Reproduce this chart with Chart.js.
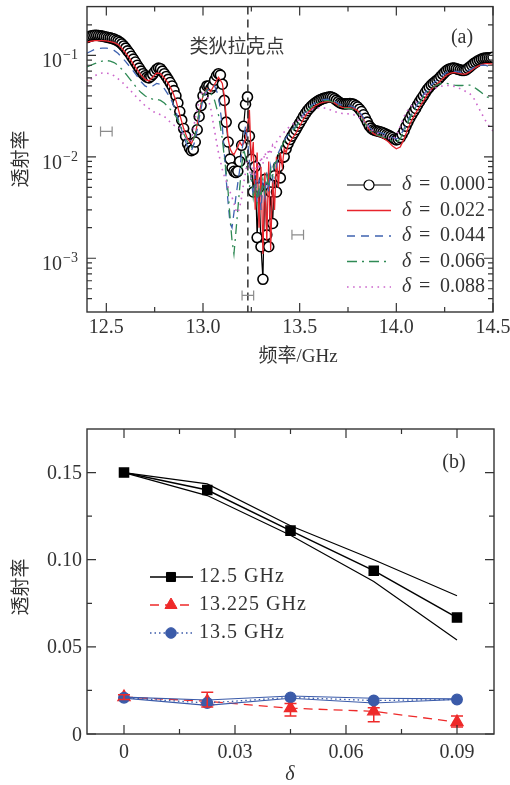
<!DOCTYPE html>
<html><head><meta charset="utf-8">
<script src="https://cdn.jsdelivr.net/npm/chart.js@4/dist/chart.umd.min.js"></script>
<style>
html,body{margin:0;padding:0;background:#fff;width:510px;height:785px;overflow:hidden}
#c1{position:absolute;left:0;top:0}
#c2{position:absolute;left:0;top:380px}
</style></head><body>
<canvas id="c1" width="510" height="380"></canvas>
<canvas id="c2" width="510" height="405"></canvas>
<script>
// ---------- Panel (a) data ----------
const freqA = [12.40,12.41,12.42,12.43,12.44,12.45,12.46,12.47,12.48,12.49,
12.50,12.51,12.52,12.53,12.54,12.55,12.56,12.57,12.58,12.59,
12.60,12.61,12.62,12.63,12.64,12.65,12.66,12.67,12.68,12.69,
12.70,12.71,12.72,12.73,12.74,12.75,12.76,12.77,12.78,12.79,
12.80,12.81,12.82,12.83,12.84,12.85,12.86,12.87,12.88,12.89,
12.90,12.91,12.92,12.93,12.94,12.95,12.96,12.97,12.98,12.99,
13.00,13.01,13.02,13.03,13.04,13.05,13.06,13.07,13.08,13.09,
13.10,13.11,13.12,13.13,13.14,13.15,13.16,13.17,13.18,13.19,
13.20,13.21,13.22,13.23,13.24,13.25,13.26,13.27,13.28,13.29,
13.30,13.31,13.32,13.33,13.34,13.35,13.36,13.37,13.38,13.39,
13.40,13.41,13.42,13.43,13.44,13.45,13.46,13.47,13.48,13.49,
13.50,13.51,13.52,13.53,13.54,13.55,13.56,13.57,13.58,13.59,
13.60,13.61,13.62,13.63,13.64,13.65,13.66,13.67,13.68,13.69,
13.70,13.71,13.72,13.73,13.74,13.75,13.76,13.77,13.78,13.79,
13.80,13.81,13.82,13.83,13.84,13.85,13.86,13.87,13.88,13.89,
13.90,13.91,13.92,13.93,13.94,13.95,13.96,13.97,13.98,13.99,
14.00,14.01,14.02,14.03,14.04,14.05,14.06,14.07,14.08,14.09,
14.10,14.11,14.12,14.13,14.14,14.15,14.16,14.17,14.18,14.19,
14.20,14.21,14.22,14.23,14.24,14.25,14.26,14.27,14.28,14.29,
14.30,14.31,14.32,14.33,14.34,14.35,14.36,14.37,14.38,14.39,
14.40,14.41,14.42,14.43,14.44,14.45,14.46,14.47,14.48,14.49,14.50];

const trans000 = [0.150,0.153,0.155,0.157,0.158,0.158,0.157,0.156,0.155,0.153,
0.152,0.150,0.149,0.147,0.145,0.142,0.139,0.135,0.130,0.124,
0.118,0.111,0.105,0.098,0.092,0.086,0.080,0.075,0.070,0.066,
0.063,0.061,0.060,0.062,0.065,0.069,0.073,0.075,0.074,0.070,
0.066,0.062,0.058,0.054,0.050,0.045,0.040,0.034,0.028,0.023,
0.019,0.016,0.0135,0.0122,0.0115,0.0118,0.0140,0.0185,0.025,0.032,
0.040,0.046,0.050,0.050,0.047,0.050,0.057,0.063,0.066,0.064,
0.052,0.036,0.022,0.014,0.0095,0.0078,0.0072,0.0070,0.0072,0.0090,
0.0130,0.0200,0.0330,0.0390,0.0160,0.0095,0.0045,0.0080,0.0016,0.0050,
0.0013,0.00062,0.0060,0.0017,0.0013,0.0045,0.0022,0.0065,0.0045,0.0080,
0.0062,0.0098,0.0100,0.0120,0.0135,0.0148,0.0160,0.0172,0.0185,0.0200,
0.0215,0.0232,0.0250,0.0268,0.0285,0.0300,0.0315,0.0328,0.0340,0.0350,
0.0360,0.0368,0.0375,0.0380,0.0385,0.0389,0.0390,0.0385,0.0375,0.0362,
0.0350,0.0340,0.0335,0.0333,0.0333,0.0334,0.0335,0.0333,0.0330,0.0320,
0.0310,0.0295,0.0280,0.0260,0.0240,0.0220,0.0202,0.0192,0.0185,0.0182,
0.0180,0.0178,0.0176,0.0173,0.0170,0.0166,0.0163,0.0159,0.0155,0.0150,
0.0147,0.0149,0.0155,0.0166,0.0180,0.0200,0.0220,0.0240,0.0260,0.0280,
0.0300,0.0325,0.0350,0.0375,0.0400,0.0430,0.0460,0.0485,0.0510,0.0530,
0.0550,0.0570,0.0590,0.0620,0.0650,0.0680,0.0710,0.0730,0.0740,0.0750,
0.0750,0.0740,0.0730,0.0720,0.0710,0.0710,0.0720,0.0745,0.0770,0.0800,
0.0830,0.0855,0.0880,0.0900,0.0920,0.0935,0.0940,0.0945,0.0950,0.0955,0.0960];

const freqB = [12.40,12.42,12.44,12.46,12.48,12.50,12.52,12.54,12.56,12.58,
12.60,12.62,12.64,12.66,12.68,12.70,12.72,12.74,12.76,12.78,
12.80,12.82,12.84,12.86,12.88,12.90,12.92,12.94,12.96,12.98,
13.00,13.02,13.04,13.06,13.08,13.10,
13.11,13.12,13.13,13.14,13.15,13.16,13.17,13.18,13.19,13.20,
13.21,13.22,13.23,13.24,13.25,13.26,13.27,13.28,13.29,13.30,
13.31,13.32,13.33,13.34,13.35,13.36,13.37,13.38,13.39,13.40,
13.41,13.42,13.43,13.44,13.45,13.46,
13.48,13.50,13.52,13.54,13.56,13.58,13.60,13.62,13.64,13.66,
13.68,13.70,13.72,13.74,13.76,13.78,13.80,13.82,13.84,13.86,
13.88,13.90,13.92,13.94,13.96,13.98,
14.00,14.02,14.04,14.06,14.08,14.10,14.12,14.14,14.16,14.18,
14.20,14.22,14.24,14.26,14.28,14.30,14.32,14.34,14.36,14.38,
14.40,14.42,14.44,14.46,14.48,14.50];

const trans022 = [0.135,0.138,0.140,0.140,0.140,0.139,0.137,0.134,0.128,0.118,
0.106,0.094,0.082,0.072,0.064,0.058,0.056,0.061,0.067,0.066,
0.060,0.053,0.045,0.036,0.026,0.019,0.0150,0.0135,0.0165,0.0270,
0.0400,0.0470,0.0440,0.0520,0.0610,0.0530,
0.040,0.025,0.015,0.0120,0.0110,0.0105,0.0115,0.0125,0.0140,0.0130,
0.0135,0.0150,0.0200,0.0290,0.0090,0.0140,0.0030,0.0110,0.0020,0.0080,
0.0011,0.0070,0.0015,0.0090,0.0012,0.0060,0.0030,0.0100,0.0050,0.0110,
0.0080,0.0120,0.0110,0.0130,0.0140,0.0150,
0.0170,0.0200,0.0235,0.0268,0.0295,0.0318,0.0335,0.0345,0.0350,0.0350,
0.0340,0.0320,0.0308,0.0305,0.0305,0.0300,0.0285,0.0255,0.0215,0.0185,
0.0170,0.0163,0.0158,0.0150,0.0140,0.0128,
0.0120,0.0125,0.0150,0.0190,0.0230,0.0270,0.0310,0.0355,0.0410,0.0460,
0.0500,0.0540,0.0590,0.0640,0.0670,0.0680,0.0670,0.0655,0.0655,0.0690,
0.0740,0.0780,0.0810,0.0830,0.0830,0.0820];

const trans044 = [0.105,0.110,0.115,0.117,0.118,0.118,0.116,0.112,0.105,0.096,
0.087,0.078,0.070,0.062,0.055,0.050,0.048,0.050,0.053,0.052,
0.047,0.041,0.035,0.028,0.021,0.016,0.0125,0.0115,0.0145,0.024,
0.037,0.045,0.048,0.050,0.040,0.020,
0.011,0.0060,0.0035,0.0022,0.0020,0.0028,0.0040,0.0055,0.0075,0.0110,
0.0150,0.0200,0.0150,0.0090,0.0060,0.0040,0.0070,0.0035,0.0060,0.0030,
0.0055,0.0040,0.0070,0.0045,0.0080,0.0060,0.0090,0.0080,0.0110,0.0120,
0.0135,0.0145,0.0155,0.0165,0.0175,0.0185,
0.0200,0.0230,0.0262,0.0295,0.0320,0.0340,0.0355,0.0365,0.0370,0.0368,
0.0355,0.0335,0.0322,0.0318,0.0318,0.0310,0.0290,0.0260,0.0225,0.0195,
0.0180,0.0175,0.0172,0.0168,0.0162,0.0155,
0.0150,0.0160,0.0190,0.0230,0.0270,0.0310,0.0360,0.0410,0.0460,0.0510,
0.0550,0.0590,0.0640,0.0680,0.0700,0.0700,0.0690,0.0680,0.0690,0.0720,
0.0760,0.0790,0.0800,0.0800,0.0780,0.0760];

const trans066 = [0.077,0.080,0.083,0.086,0.088,0.089,0.088,0.085,0.080,0.073,
0.066,0.059,0.053,0.047,0.043,0.040,0.038,0.037,0.037,0.036,
0.034,0.031,0.028,0.025,0.021,0.017,0.014,0.0125,0.017,0.028,
0.040,0.046,0.043,0.036,0.026,0.015,
0.0100,0.0070,0.0045,0.0025,0.0015,0.0011,0.0018,0.0030,0.0050,0.0080,
0.0120,0.0100,0.0070,0.0050,0.0065,0.0040,0.0055,0.0035,0.0050,0.0040,
0.0060,0.0045,0.0065,0.0050,0.0075,0.0065,0.0085,0.0090,0.0105,0.0115,
0.0130,0.0140,0.0150,0.0160,0.0170,0.0180,
0.0195,0.0225,0.0255,0.0285,0.0310,0.0330,0.0345,0.0355,0.0360,0.0355,
0.0340,0.0320,0.0305,0.0300,0.0300,0.0290,0.0270,0.0240,0.0210,0.0185,
0.0170,0.0165,0.0160,0.0155,0.0148,0.0142,
0.0140,0.0150,0.0180,0.0220,0.0260,0.0300,0.0340,0.0390,0.0430,0.0470,
0.0500,0.0520,0.0530,0.0530,0.0520,0.0510,0.0505,0.0505,0.0510,0.0510,
0.0490,0.0460,0.0430,0.0400,0.0380,0.0360];

const trans088 = [0.052,0.058,0.063,0.066,0.067,0.067,0.066,0.063,0.059,0.055,
0.050,0.046,0.042,0.038,0.035,0.032,0.030,0.028,0.027,0.026,
0.025,0.023,0.021,0.020,0.019,0.016,0.0145,0.0145,0.024,0.036,
0.045,0.042,0.030,0.018,0.011,0.0075,
0.0065,0.0058,0.0050,0.0045,0.0040,0.0035,0.0030,0.0028,0.0032,0.0040,
0.0055,0.0070,0.0090,0.0075,0.0060,0.0080,0.0065,0.0090,0.0075,0.0100,
0.0085,0.0110,0.0095,0.0120,0.0105,0.0130,0.0120,0.0140,0.0150,0.0160,
0.0168,0.0176,0.0184,0.0192,0.0200,0.0208,
0.0218,0.0235,0.0255,0.0275,0.0290,0.0300,0.0305,0.0305,0.0300,0.0290,
0.0280,0.0272,0.0268,0.0266,0.0265,0.0260,0.0250,0.0235,0.0215,0.0195,
0.0180,0.0172,0.0165,0.0158,0.0152,0.0150,
0.0160,0.0200,0.0250,0.0290,0.0320,0.0340,0.0370,0.0400,0.0430,0.0455,
0.0475,0.0490,0.0500,0.0505,0.0505,0.0495,0.0480,0.0460,0.0440,0.0420,
0.0380,0.0320,0.0270,0.0230,0.0200,0.0180];

const deltaLabelsA = ['0.000','0.022','0.044','0.066','0.088'];
const xTicksA = [12.5,13.0,13.5,14.0,14.5];
const xTickLabelsA = ['12.5','13.0','13.5','14.0','14.5'];
const xMinorA = [12.75,13.25,13.75,14.25];
const yDecadesA = [0.1,0.01,0.001];
const yExpLabelsA = ['\u22121','\u22122','\u22123'];
const yMinorA = [0.0004,0.0005,0.0006,0.0007,0.0008,0.0009,
  0.002,0.003,0.004,0.005,0.006,0.007,0.008,0.009,
  0.02,0.03,0.04,0.05,0.06,0.07,0.08,0.09,0.2];
const diracFreq = 13.232;
const diracLabel = '类狄拉克点';
const errFreqA = [12.50,13.49,13.232];
const errValA = [0.0178,0.0017,0.00043];
const errHalfA = [0.03,0.03,0.03];

// ---------- Panel (b) data ----------
const deltaB = [0,0.0225,0.045,0.0675,0.09];
const t125 = [0.150,0.140,0.1167,0.0937,0.0668];
const t125Hi = [0.150,0.1435,0.1195,0.1000,0.0793];
const t125Lo = [0.150,0.1368,0.1140,0.0875,0.0540];
const t13225 = [0.0212,0.0188,0.0148,0.0130,0.0068];
const t13225ErrHi = [0.0225,0.0240,0.0175,0.0150,0.0103];
const t13225ErrLo = [0.0198,0.0155,0.0103,0.0070,0.0040];
const t135 = [0.0208,0.0178,0.0210,0.0192,0.0198];
const t135Hi = [0.0212,0.0195,0.0218,0.0205,0.0202];
const t135Lo = [0.0206,0.0164,0.0205,0.0178,0.0198];
const legendB = ['12.5 GHz','13.225 GHz','13.5 GHz'];
const xTicksB = [0,0.03,0.06,0.09];
const xTickLabelsB = ['0','0.03','0.06','0.09'];
const xMinorB = [0.015,0.045,0.075];
const yTicksB = [0,0.05,0.10,0.15];
const yTickLabelsB = ['0','0.05','0.10','0.15'];
const yMinorB = [0.025,0.075,0.125];

// ---------- helpers ----------
const SERIF = '"Liberation Serif","DejaVu Serif",serif';
const CJK = '"Noto Sans CJK SC",sans-serif';
const TXT = '#333';
const pts = (xs, ys) => xs.map((v,i)=>({x:v,y:ys[i]}));

function drawFrameTicks(ctx, a, xs, ys, xMaj, xMin, yMaj, yMin){
  ctx.save();
  ctx.strokeStyle = '#333'; ctx.lineWidth = 1.4; ctx.setLineDash([]);
  ctx.strokeRect(a.left, a.top, a.right - a.left, a.bottom - a.top);
  ctx.lineWidth = 1.2;
  ctx.beginPath();
  const vt = (v, len) => { const p = xs.getPixelForValue(v);
    ctx.moveTo(p, a.bottom); ctx.lineTo(p, a.bottom - len);
    ctx.moveTo(p, a.top); ctx.lineTo(p, a.top + len); };
  const ht = (v, len) => { const p = ys.getPixelForValue(v);
    ctx.moveTo(a.left, p); ctx.lineTo(a.left + len, p);
    ctx.moveTo(a.right, p); ctx.lineTo(a.right - len, p); };
  xMaj.forEach(v=>vt(v,9)); xMin.forEach(v=>vt(v,5));
  yMaj.forEach(v=>ht(v,9)); yMin.forEach(v=>ht(v,5));
  ctx.stroke();
  ctx.restore();
}

function marker(ctx, style, x, y, r){
  ctx.beginPath();
  if (style === 'rect'){ const s = r*Math.SQRT1_2; ctx.rect(x-s,y-s,2*s,2*s); }
  else if (style === 'triangle'){
    ctx.moveTo(x, y-r); ctx.lineTo(x+0.866*r, y+0.5*r); ctx.lineTo(x-0.866*r, y+0.5*r); ctx.closePath();
  } else { ctx.arc(x,y,r,0,Math.PI*2); }
  ctx.fill(); ctx.stroke();
}

// ---------- Panel (a) ----------
const decorA = {
  id:'decorA',
  afterDatasetsDraw(chart){
    const {ctx, chartArea:a, scales:{x, y}} = chart;
    ctx.save();
    const dx = x.getPixelForValue(diracFreq);
    ctx.strokeStyle = '#333'; ctx.lineWidth = 1.5; ctx.setLineDash([8,5]);
    ctx.beginPath(); ctx.moveTo(dx, a.top); ctx.lineTo(dx, a.bottom); ctx.stroke();
    ctx.setLineDash([]);
    ctx.strokeStyle = '#8c8c8c'; ctx.lineWidth = 1.2;
    errFreqA.forEach((f,i)=>{
      const x1 = x.getPixelForValue(f - errHalfA[i]), x2 = x.getPixelForValue(f + errHalfA[i]);
      const py = y.getPixelForValue(errValA[i]);
      ctx.beginPath();
      ctx.moveTo(x1,py); ctx.lineTo(x2,py);
      ctx.moveTo(x1,py-5); ctx.lineTo(x1,py+5);
      ctx.moveTo(x2,py-5); ctx.lineTo(x2,py+5);
      ctx.stroke();
    });
    ctx.restore();
    drawFrameTicks(ctx, a, x, y, xTicksA, xMinorA, yDecadesA, yMinorA);
    ctx.save();
    ctx.fillStyle = TXT;
    ctx.font = '20px ' + SERIF; ctx.textAlign = 'center'; ctx.textBaseline = 'alphabetic';
    xTicksA.forEach((v,i)=> ctx.fillText(xTickLabelsA[i], x.getPixelForValue(v), 333));
    yDecadesA.forEach((v,i)=>{
      const py = y.getPixelForValue(v);
      ctx.font = '20px ' + SERIF; ctx.textAlign = 'right';
      ctx.fillText('10', 62, py + 12);
      ctx.font = '14px ' + SERIF; ctx.textAlign = 'left';
      ctx.fillText(yExpLabelsA[i], 63, py + 4);
    });
    ctx.font = '19px ' + SERIF + ',' + CJK; ctx.textAlign = 'center';
    ctx.fillText('频率/GHz', 298, 362);
    ctx.save(); ctx.translate(20, 159); ctx.rotate(-Math.PI/2);
    ctx.font = '19px ' + CJK; ctx.textBaseline = 'middle';
    ctx.fillText('透射率', 0, 0); ctx.restore();
    ctx.font = '19px ' + CJK; ctx.textBaseline = 'middle'; ctx.textAlign = 'center';
    ctx.fillStyle = '#3a3a3a';
    ctx.fillText(diracLabel, 237, 46);
    ctx.fillStyle = TXT;
    ctx.font = '20px ' + SERIF;
    ctx.fillText('(a)', 462, 38);
    const ds = chart.data.datasets;
    deltaLabelsA.forEach((lab,i)=>{
      const ly = 185 + i*25.5;
      const d = ds[i];
      ctx.save();
      ctx.strokeStyle = d.borderColor; ctx.lineWidth = d.borderWidth;
      ctx.setLineDash(d.borderDash || []);
      ctx.beginPath(); ctx.moveTo(347, ly); ctx.lineTo(391, ly); ctx.stroke();
      ctx.setLineDash([]);
      if (i === 0){ ctx.fillStyle = '#fff'; ctx.lineWidth = 1.2; ctx.strokeStyle = '#000'; marker(ctx,'circle',369,ly,5); }
      ctx.restore();
      ctx.textAlign = 'left'; ctx.textBaseline = 'middle';
      ctx.font = 'italic 20px ' + SERIF; ctx.fillText('δ', 402, ly);
      ctx.font = '20px ' + SERIF; ctx.fillText('=', 419, ly);
      ctx.fillText(lab, 440, ly);
    });
    ctx.restore();
  }
};

new Chart(document.getElementById('c1'), {
  type:'line',
  data:{ datasets:[
    { label:'δ = '+deltaLabelsA[0], data:pts(freqA,trans000), borderColor:'#000', borderWidth:1.2,
      pointRadius:5, pointBorderWidth:1.6, pointBackgroundColor:'#fff', pointBorderColor:'#000', order:10, clip:0 },
    { label:'δ = '+deltaLabelsA[1], data:pts(freqB,trans022), borderColor:'#e8242c', borderWidth:1.3, pointRadius:0, order:4, clip:0 },
    { label:'δ = '+deltaLabelsA[2], data:pts(freqB,trans044), borderColor:'#3f63b0', borderWidth:1.3, borderDash:[8,6], pointRadius:0, order:3, clip:0 },
    { label:'δ = '+deltaLabelsA[3], data:pts(freqB,trans066), borderColor:'#2f8a55', borderWidth:1.3, borderDash:[10,5,2,5], pointRadius:0, order:2, clip:0 },
    { label:'δ = '+deltaLabelsA[4], data:pts(freqB,trans088), borderColor:'#cc66cc', borderWidth:1.6, borderDash:[1.6,4.5], pointRadius:0, order:1, clip:0 }
  ]},
  options:{
    responsive:false, animation:false, devicePixelRatio:1, events:[],
    layout:{ padding:{ left:87, top:6, right:17, bottom:68 } },
    elements:{ line:{ tension:0 } },
    plugins:{ legend:{display:false}, tooltip:{enabled:false} },
    scales:{
      x:{ type:'linear', min:12.4, max:14.5, display:false },
      y:{ type:'logarithmic', min:2.95e-4, max:0.303, display:false }
    }
  },
  plugins:[decorA]
});

// ---------- Panel (b) ----------
const decorB = {
  id:'decorB',
  afterDatasetsDraw(chart){
    const {ctx, chartArea:a, scales:{x, y}} = chart;
    ctx.save();
    ctx.strokeStyle = '#ee2a2a'; ctx.lineWidth = 1.5;
    deltaB.forEach((d,i)=>{
      const px = x.getPixelForValue(d);
      const yh = y.getPixelForValue(t13225ErrHi[i]), yl = y.getPixelForValue(t13225ErrLo[i]);
      ctx.beginPath();
      ctx.moveTo(px, yh); ctx.lineTo(px, yl);
      ctx.moveTo(px-6, yh); ctx.lineTo(px+6, yh);
      ctx.moveTo(px-6, yl); ctx.lineTo(px+6, yl);
      ctx.stroke();
    });
    ctx.restore();
    drawFrameTicks(ctx, a, x, y, xTicksB, xMinorB, yTicksB, yMinorB);
    ctx.save();
    ctx.fillStyle = TXT;
    ctx.font = '20px ' + SERIF; ctx.textAlign = 'center'; ctx.textBaseline = 'alphabetic';
    xTicksB.forEach((v,i)=> ctx.fillText(xTickLabelsB[i], x.getPixelForValue(v), 378));
    ctx.textAlign = 'right';
    yTicksB.forEach((v,i)=> ctx.fillText(yTickLabelsB[i], 82, y.getPixelForValue(v) + 6.5));
    ctx.textAlign = 'center';
    ctx.font = 'italic 20px ' + SERIF; ctx.fillText('δ', 290, 400);
    ctx.save(); ctx.translate(20, 207); ctx.rotate(-Math.PI/2);
    ctx.font = '19px ' + CJK; ctx.textBaseline = 'middle';
    ctx.fillText('透射率', 0, 0); ctx.restore();
    ctx.font = '20px ' + SERIF; ctx.textBaseline = 'middle';
    ctx.fillText('(b)', 454, 83);
    const ds = chart.data.datasets;
    const legIdx = [0,3,4];
    legIdx.forEach((di,i)=>{
      const d = ds[di];
      const ly = 197 + i*28;
      ctx.save();
      ctx.strokeStyle = d.borderColor; ctx.lineWidth = d.borderWidth;
      ctx.setLineDash(d.borderDash || []);
      ctx.beginPath(); ctx.moveTo(150, ly); ctx.lineTo(193, ly); ctx.stroke();
      ctx.setLineDash([]);
      ctx.fillStyle = d.pointBackgroundColor; ctx.strokeStyle = d.pointBackgroundColor; ctx.lineWidth = 1;
      marker(ctx, d.pointStyle, 171, ly, d.pointRadius);
      ctx.restore();
      ctx.save();
      ctx.fillStyle = TXT; ctx.font = '20px ' + SERIF; ctx.textAlign = 'left'; ctx.textBaseline = 'middle';
      ctx.letterSpacing = '1px';
      ctx.fillText(legendB[i], 199, ly);
      ctx.restore();
    });
    ctx.restore();
  }
};

new Chart(document.getElementById('c2'), {
  type:'line',
  data:{ datasets:[
    { label:legendB[0], data:pts(deltaB,t125), borderColor:'#000', borderWidth:1.5,
      pointStyle:'rect', pointRadius:6.4, pointBackgroundColor:'#000', pointBorderColor:'#000', order:3 },
    { label:'hi', data:pts(deltaB,t125Hi), borderColor:'#000', borderWidth:1.2, pointRadius:0, order:3 },
    { label:'lo', data:pts(deltaB,t125Lo), borderColor:'#000', borderWidth:1.2, pointRadius:0, order:3 },
    { label:legendB[1], data:pts(deltaB,t13225), borderColor:'#ee2a2a', borderWidth:1.3, borderDash:[9,6],
      pointStyle:'triangle', pointRadius:7, pointBackgroundColor:'#ee2a2a', pointBorderColor:'#ee2a2a', order:2 },
    { label:legendB[2], data:pts(deltaB,t135), borderColor:'#3b5ba9', borderWidth:1.3, borderDash:[1.5,3],
      pointStyle:'circle', pointRadius:5.3, pointBackgroundColor:'#3b5ba9', pointBorderColor:'#3b5ba9', order:0 },
    { label:'bhi', data:pts(deltaB,t135Hi), borderColor:'#3b5ba9', borderWidth:1.2, pointRadius:0, order:1 },
    { label:'blo', data:pts(deltaB,t135Lo), borderColor:'#3b5ba9', borderWidth:1.2, pointRadius:0, order:1 }
  ]},
  options:{
    responsive:false, animation:false, devicePixelRatio:1, events:[],
    layout:{ padding:{ left:87, top:49, right:16, bottom:51 } },
    elements:{ line:{ tension:0 } },
    plugins:{ legend:{display:false}, tooltip:{enabled:false} },
    scales:{
      x:{ type:'linear', min:-0.01, max:0.1, display:false },
      y:{ type:'linear', min:0, max:0.175, display:false }
    }
  },
  plugins:[decorB]
});
</script></body></html>
